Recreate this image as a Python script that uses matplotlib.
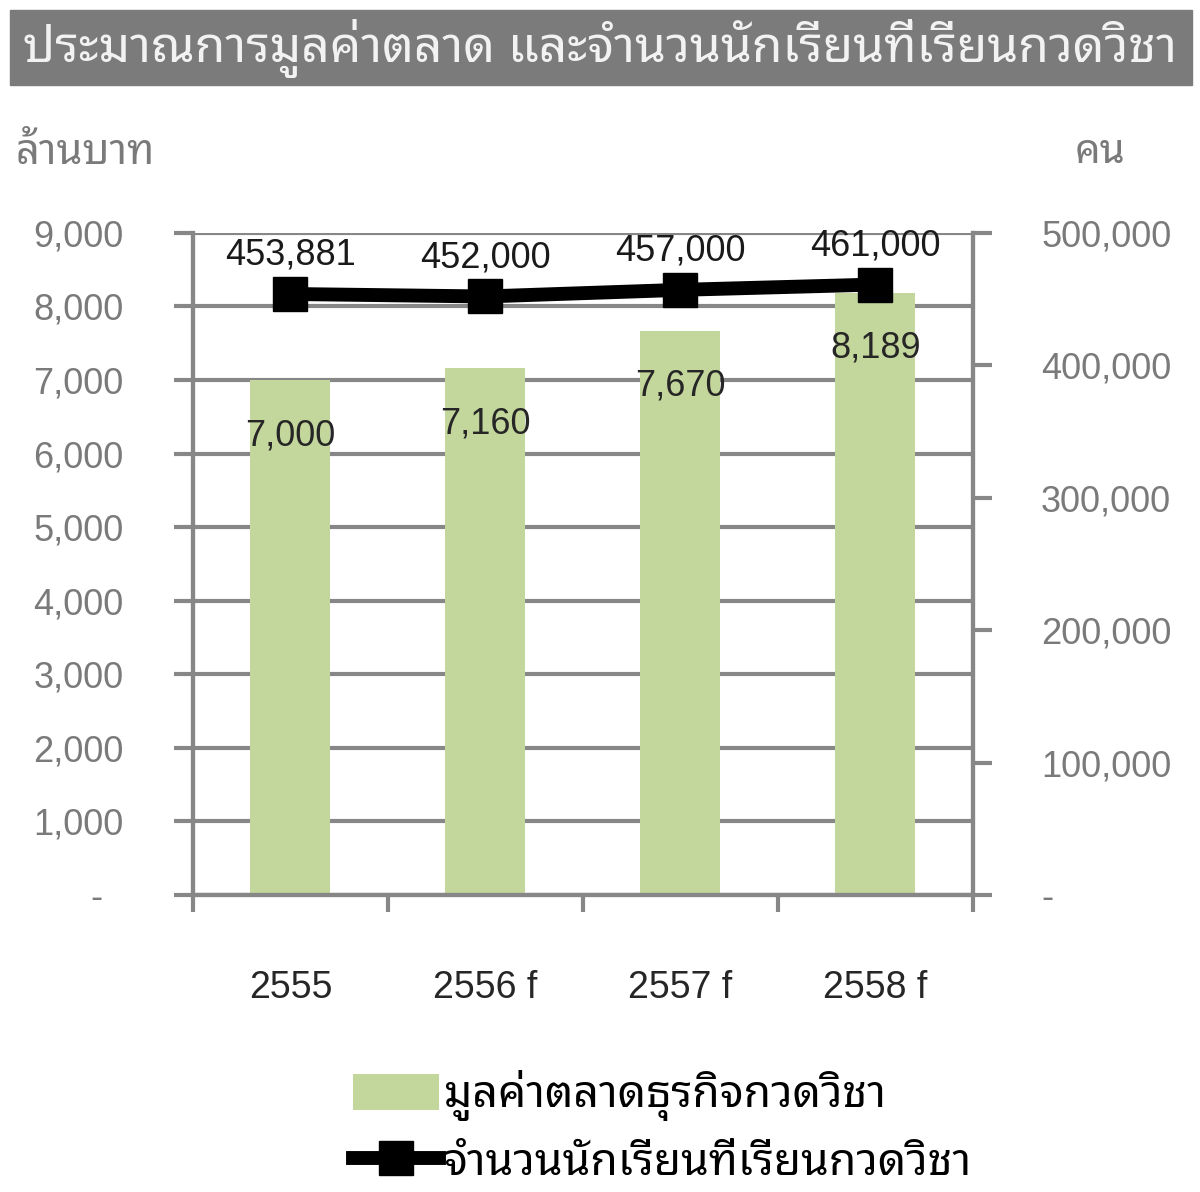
import matplotlib
matplotlib.use("Agg")
import matplotlib.pyplot as plt
from matplotlib.patches import Rectangle
from matplotlib.ticker import FixedLocator, FuncFormatter, NullFormatter

# ---------------- data ----------------
years = ["2555", "2556 f", "2557 f", "2558 f"]
market_value = [7000, 7160, 7670, 8189]          # ล้านบาท
students = [453881, 452000, 457000, 461000]      # คน

title = "ประมาณการมูลค่าตลาด และจำนวนนักเรียนที่เรียนกวดวิชา"
left_unit = "ล้านบาท"
right_unit = "คน"
bar_name = "มูลค่าตลาดธุรกิจกวดวิชา"
line_name = "จำนวนนักเรียนที่เรียนกวดวิชา"

# ---------------- style ----------------
THAI = ["Noto Sans Thai Looped", "Sarabun", "Noto Sans Thai", "Athiti", "DejaVu Sans"]
NUM = ["Liberation Sans", "DejaVu Sans"]
plt.rcParams["font.family"] = NUM

GRID = "#878787"
BAR = "#c3d69b"
TICKTXT = "#7a7a7a"

fig = plt.figure(figsize=(12, 11.92), dpi=100)
ax = fig.add_axes([0.1608, 0.2492, 0.65, 0.5554])
ax2 = ax.twinx()

# แถบหัวเรื่อง
fig.patches.append(Rectangle((0.0083, 0.9287), 0.985, 0.0629,
                             transform=fig.transFigure, color="#7b7b7b", zorder=0))
fig.text(0.5, 0.959, title, ha="center", va="center", color="#f2f2f2",
         fontsize=35.8, family=THAI)
fig.text(0.0125, 0.872, left_unit, ha="left", va="center", color=TICKTXT,
         fontsize=30, family=THAI)
fig.text(0.917, 0.872, right_unit, ha="center", va="center", color=TICKTXT,
         fontsize=29, family=THAI)

# bars (แกนซ้าย)
x = list(range(len(years)))
bars = ax.bar(x, market_value, width=0.41, color=BAR, zorder=2, label=bar_name)
for xi, v in zip(x, market_value):
    ax.annotate(f"{v:,}", (xi, v), xytext=(0, -40), textcoords="offset points",
                ha="center", va="center", fontsize=26, color="#262626")

ax.set_xlim(-0.5, 3.5)
ax.set_ylim(0, 9000)
ax.set_axisbelow(True)
ax.yaxis.set_major_locator(FixedLocator(range(0, 9001, 1000)))
ax.yaxis.set_major_formatter(FuncFormatter(lambda v, p: "-  " if v == 0 else f"{int(v):,}"))
ax.grid(axis="y", color=GRID, linewidth=3)
ax.xaxis.set_major_locator(FixedLocator([-0.5, 0.5, 1.5, 2.5, 3.5]))
ax.xaxis.set_major_formatter(NullFormatter())
ax.xaxis.set_minor_locator(FixedLocator(x))
ax.set_xticklabels(years, minor=True)
ax.tick_params(axis="x", which="major", direction="out", length=12, width=3, color=GRID)
ax.tick_params(axis="x", which="minor", length=0, pad=54, labelsize=27, labelcolor="#262626")
ax.tick_params(axis="y", direction="out", length=14, width=3, color=GRID,
               pad=36, labelsize=26, labelcolor=TICKTXT)

for a in (ax, ax2):
    a.spines["top"].set_visible(False)
    for s in ("left", "right", "bottom"):
        a.spines[s].set_color(GRID)
        a.spines[s].set_linewidth(3)

# เส้น (แกนขวา)
ln, = ax2.plot(x, students, color="black", linewidth=10, marker="s",
               markersize=24, zorder=3, label=line_name)
for xi, v in zip(x, students):
    ax2.annotate(f"{v:,}", (xi, v), xytext=(0, 28), textcoords="offset points",
                 ha="center", va="center", fontsize=26, color="#1a1a1a")
ax2.set_ylim(0, 500000)
ax2.yaxis.set_major_locator(FixedLocator(range(0, 500001, 100000)))
ax2.yaxis.set_major_formatter(FuncFormatter(lambda v, p: "-" if v == 0 else f"{int(v):,}"))
ax2.tick_params(axis="y", direction="out", length=14, width=3, color=GRID,
                pad=35, labelsize=26, labelcolor=TICKTXT)

# legend
leg = fig.legend(handles=[bars, ln], loc="upper left", bbox_to_anchor=(0.279, 0.117),
                 frameon=False, prop={"family": THAI, "size": 32},
                 handlelength=1.95, handleheight=0.9, handletextpad=0.1,
                 labelspacing=0.45, borderaxespad=0)

fig.savefig("out.png", dpi=100)
